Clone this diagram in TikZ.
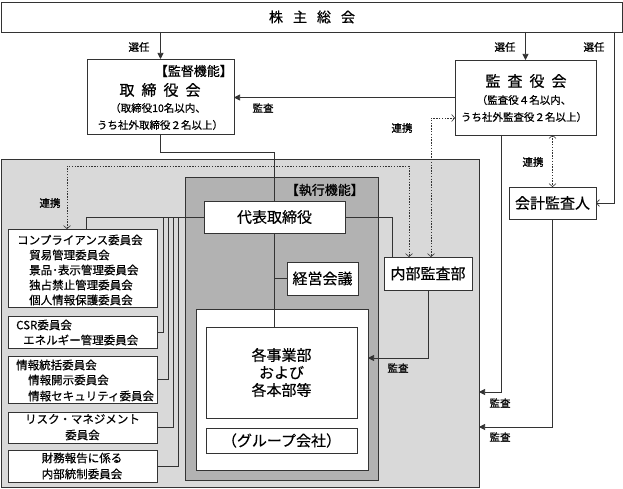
\documentclass[tikz,border=0pt]{standalone}
\usepackage{fontspec}
\setmainfont[FakeBold=0.35]{Noto Sans CJK JP}
\newfontfamily\jpb[FakeBold=1]{Noto Sans CJK JP}
\newfontfamily\jpm[FakeBold=0.7]{Noto Sans CJK JP}
\usetikzlibrary{arrows.meta,calc}
\definecolor{lgray}{RGB}{217,217,217}
\definecolor{dgray}{RGB}{178,178,178}
\definecolor{ln}{RGB}{51,51,51}
\begin{document}
\begin{tikzpicture}[x=1pt,y=-1pt,
  bx/.style={draw=ln, fill=white, line width=0.8pt, inner sep=0pt, outer sep=0pt},
  con/.style={draw=ln, line width=0.7pt},
  arr/.style={con, -{Triangle[length=6pt,width=6pt]}},
  oarr/.style={con, -{Straight Barb[length=3pt,width=7pt]}},
  darr/.style={con, line width=0.6pt, dash pattern=on 1.4pt off 1.4pt, {Straight Barb[length=3pt,width=7pt]}-{Straight Barb[length=3pt,width=7pt]}},
  lbl/.style={font=\jpb\fontsize{10.5}{12}\selectfont, inner sep=0pt},
  tx/.style={font=\fontsize{11.5}{15}\selectfont, inner sep=0pt},
  tm/.style={font=\fontsize{15}{17.5}\selectfont, inner sep=0pt, align=center},
  ts/.style={font=\fontsize{10.5}{12}\selectfont, inner sep=0pt},
  th/.style={font=\jpm\fontsize{13}{15}\selectfont, inner sep=0pt}]
\useasboundingbox (0,0) rectangle (623,489);
% coordinates
\coordinate (rx) at (614,0);
\coordinate (x431) at (431,0);
\coordinate (x409) at (409,0);
\coordinate (x392) at (392,0);
\coordinate (x501) at (501,0);
\coordinate (x86) at (86,0);
\coordinate (x67) at (67,0);
\coordinate (x163) at (163,0);
\coordinate (x168) at (168,0);
\coordinate (x173) at (173,0);
\coordinate (x178) at (178,0);
\coordinate (y118) at (0,118);
\coordinate (y166) at (0,166);
\coordinate (y358) at (0,358);
\coordinate (y392) at (0,392);
\coordinate (y427) at (0,427);
% areas
\node[bx, fill=lgray, minimum width=478pt, minimum height=328pt] (grayarea) at (240,323) {};
\node[bx, fill=dgray, minimum width=193pt, minimum height=303pt] (execarea) at (281.5,328.5) {};
\node[th, anchor=east] (exectitle) at (364,190) {【執行機能】};
% boxes
\node[bx, minimum width=621pt, minimum height=30pt] (agm) at (311.5,17) {};
\node[font=\jpm\fontsize{14}{16}\selectfont, inner sep=0pt] (agmt) at (312,17) {株\hspace{10pt}主\hspace{10pt}総\hspace{10pt}会};
\node[bx, minimum width=147pt, minimum height=75pt] (bod) at (160.5,96.5) {};
\node[th, anchor=east] (bodt1) at (233,71) {【監督機能】};
\node[font=\jpm\fontsize{15}{17}\selectfont, inner sep=0pt] (bodt2) at (160,90) {取\hspace{7pt}締\hspace{7pt}役\hspace{7pt}会};
\node[ts] (bodt3) at (158,108) {（取締役10名以内、};
\node[ts] (bodt4) at (160,125) {うち社外取締役２名以上）};
\node[bx, minimum width=141pt, minimum height=75pt] (abk) at (525.5,97.5) {};
\node[font=\jpm\fontsize{15}{17}\selectfont, inner sep=0pt] (abkt1) at (526,81) {監\hspace{7pt}査\hspace{7pt}役\hspace{7pt}会};
\node[ts] (abkt2) at (524,100) {（監査役４名以内、};
\node[ts] (abkt3) at (524,117) {うち社外監査役２名以上）};
\node[bx, minimum width=87pt, minimum height=32pt, font=\fontsize{15}{17}\selectfont] (aud) at (552.5,203) {会計監査人};
\node[bx, minimum width=141pt, minimum height=32pt, font=\fontsize{15}{17}\selectfont] (rep) at (274.5,217) {代表取締役};
\node[bx, minimum width=71pt, minimum height=33pt, font=\fontsize{15}{17}\selectfont] (mtg) at (322.5,278.5) {経営会議};
\node[bx, minimum width=88pt, minimum height=33pt, font=\fontsize{15}{17}\selectfont] (iad) at (428,273.5) {内部監査部};
\node[bx, minimum width=172pt, minimum height=161pt] (obox) at (282,389.5) {};
\node[bx, minimum width=151pt, minimum height=91pt, tm] (div) at (281.5,372.5) {各事業部\\および\\各本部等};
\node[bx, minimum width=151pt, minimum height=25pt, font=\fontsize{15}{17}\selectfont] (grp) at (281.5,440.5) {（グループ会社）};
% committees
\node[bx, minimum width=149pt, minimum height=78pt] (c1) at (82.5,268) {};
\node[tx, anchor=west] (c1a) at (17,240) {コンプライアンス委員会};
\node[tx, anchor=west] (c1b) at (29,255) {貿易管理委員会};
\node[tx, anchor=west] (c1c) at (29,270) {景品･表示管理委員会};
\node[tx, anchor=west] (c1d) at (29,285) {独占禁止管理委員会};
\node[tx, anchor=west] (c1e) at (29,300) {個人情報保護委員会};
\node[bx, minimum width=149pt, minimum height=32pt] (c2) at (82.5,332) {};
\node[tx, anchor=west] (c2a) at (16,325) {CSR委員会};
\node[tx, anchor=west] (c2b) at (23,340) {エネルギー管理委員会};
\node[bx, minimum width=149pt, minimum height=47pt] (c3) at (82.5,379.5) {};
\node[tx, anchor=west] (c3a) at (16,365) {情報統括委員会};
\node[tx, anchor=west] (c3b) at (28,380) {情報開示委員会};
\node[tx, anchor=west] (c3c) at (28,396) {情報セキュリティ委員会};
\node[bx, minimum width=149pt, minimum height=31pt] (c4) at (82.5,427.5) {};
\node[tx] (c4a) at (82.5,419) {リスク・マネジメント};
\node[tx] (c4b) at (82.5,435) {委員会};
\node[bx, minimum width=149pt, minimum height=32pt] (c5) at (82.5,466) {};
\node[tx] (c5a) at (82,458) {財務報告に係る};
\node[tx] (c5b) at (82,474) {内部統制委員会};
% connectors
\draw[arr] (agm.south -| bod.north) -- (bod.north);
\draw[arr] (agm.south -| abk.north) -- (abk.north);
\draw[oarr] (agm.south -| rx) |- (aud.east);
\node[lbl] (s1) at (139,47) {選任};
\node[lbl] (s2) at (505,47) {選任};
\node[lbl] (s3) at (594,47) {選任};
\draw[arr] (abk.west) -- (bod.east |- abk.west);
\node[lbl] (k1) at (263,108) {監査};
\draw[darr] (abk.west |- y118) -| (iad.north -| x431);
\node[lbl] (r1) at (402,128) {連携};
\draw[darr] (abk.south -| aud.north) -- (aud.north);
\node[lbl] (r2) at (533,162) {連携};
\draw[darr] (c1.north -| x67) -- (x67 |- y166) -| (iad.north -| x409);
\node[lbl] (r3) at (50,203) {連携};
\draw[con] (bod.south) -- ++(0,18) -| (rep.north);
\draw[con] (rep.south) -- (rep.south |- div.north);
\draw[con] (rep.south |- mtg.west) -- (mtg.west);
\draw[con] (rep.east) -| (iad.north -| x392);
\draw[arr] (iad.south) |- (obox.east |- y358);
\node[lbl] (k2) at (398,368) {監査};
\draw[arr] (abk.south -| x501) |- (grayarea.east |- y392);
\node[lbl] (k3) at (500,403) {監査};
\draw[arr] (aud.south) |- (grayarea.east |- y427);
\node[lbl] (k4) at (500,437) {監査};
\draw[con] (rep.west) -| (c1.north -| x86);
\draw[con] (rep.west -| x163) |- (c2.east);
\draw[con] (rep.west -| x168) |- (c3.east);
\draw[con] (rep.west -| x173) |- (c4.east);
\draw[con] (rep.west -| x178) |- (c5.east);
\end{tikzpicture}
\end{document}
